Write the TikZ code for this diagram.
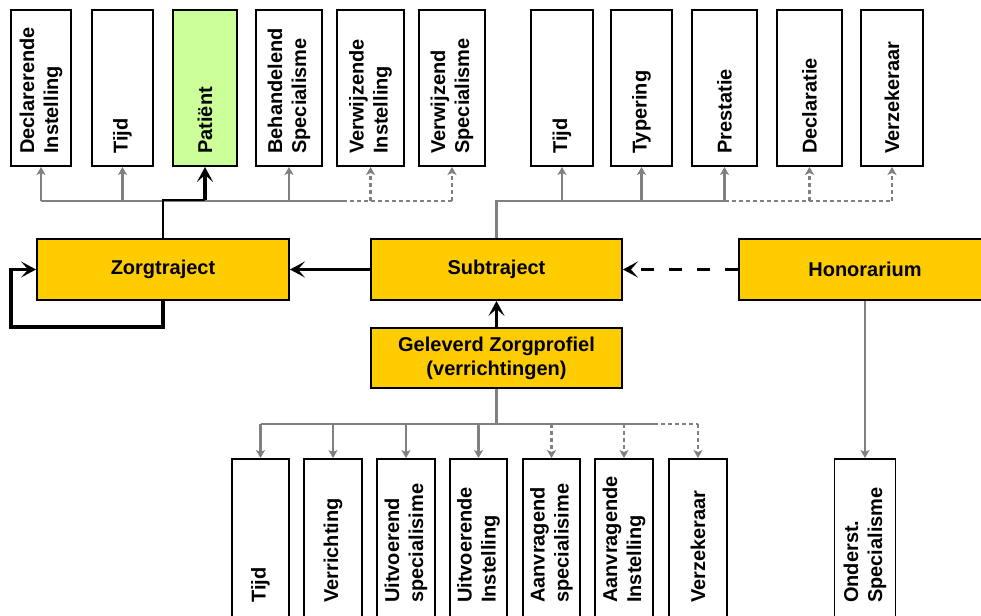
\documentclass[tikz,border=0pt]{standalone}
\usepackage{fontspec}
\setmainfont{Liberation Sans}
\usetikzlibrary{arrows.meta}
\definecolor{yel}{HTML}{FFCC00}
\definecolor{grn}{HTML}{CCFF99}
\definecolor{gry}{HTML}{808080}
\begin{document}
\begin{tikzpicture}[x=1pt,y=1pt,
  bx/.style={draw=black,line width=1.9pt,fill=white,inner sep=0pt,rectangle},
  tbx/.style={bx,minimum height=156pt},
  bbx/.style={bx,minimum height=181pt},
  ybx/.style={bx,fill=yel,minimum height=61pt,minimum width=251pt,font=\fontsize{20}{24}\selectfont\bfseries,align=center},
  vtext/.style={rotate=90,anchor=west,align=left,inner sep=0pt,font=\fontsize{20}{24}\selectfont\bfseries},
  gline/.style={draw=gry,line width=2.2pt},
  gdash/.style={dash pattern=on 4pt off 3pt},
  garr/.style={gline,-{Stealth[length=8pt,width=9pt,inset=2pt]}},
  blk/.style={draw=black,line width=3.2pt},
  barr/.style={blk,-{Stealth[length=15pt,width=16pt,inset=7pt]}}
]
\useasboundingbox (0,0) rectangle (981,615);
\fill[white] (0,0) rectangle (981,615);

% top boxes
\node[tbx,minimum width=60pt] (d1) at (41,527) {};
\node[tbx,minimum width=61pt] (d2) at (122.5,527) {};
\node[tbx,minimum width=64pt,fill=grn] (d3) at (205,527) {};
\node[tbx,minimum width=66pt] (d4) at (289,527) {};
\node[tbx,minimum width=67pt] (d5) at (370.5,527) {};
\node[tbx,minimum width=66pt] (d6) at (452,527) {};
\node[tbx,minimum width=62pt] (r1) at (562,527) {};
\node[tbx,minimum width=61pt] (r2) at (641.5,527) {};
\node[tbx,minimum width=65pt] (r3) at (724.5,527) {};
\node[tbx,minimum width=65pt] (r4) at (809.5,527) {};
\node[tbx,minimum width=62pt] (r5) at (892,527) {};

\node[vtext] (td1) at ([yshift=13pt]d1.south) {Declarerende\\Instelling};
\node[vtext] (td2) at ([yshift=13pt]d2.south) {Tijd};
\node[vtext] (td3) at ([yshift=13pt]d3.south) {Patiënt};
\node[vtext] (td4) at ([yshift=13pt]d4.south) {Behandelend\\Specialisme};
\node[vtext] (td5) at ([yshift=13pt]d5.south) {Verwijzende\\Instelling};
\node[vtext] (td6) at ([yshift=13pt]d6.south) {Verwijzend\\Specialisme};
\node[vtext] (tr1) at ([yshift=13pt]r1.south) {Tijd};
\node[vtext] (tr2) at ([yshift=13pt]r2.south) {Typering};
\node[vtext] (tr3) at ([yshift=13pt]r3.south) {Prestatie};
\node[vtext] (tr4) at ([yshift=13pt]r4.south) {Declaratie};
\node[vtext] (tr5) at ([yshift=13pt]r5.south) {Verzekeraar};

% middle boxes
\node[ybx,minimum width=252pt] (zorg) at (163,345.5) {Zorgtraject};
\node[ybx] (sub) at (496.5,345.5) {Subtraject};
\node[ybx,minimum width=252pt] (hon) at (865,345.5) {Honorarium};
\node[ybx,minimum height=60pt] (gel) at (496.5,257) {Geleverd Zorgprofiel\\(verrichtingen)};

% bottom boxes
\node[bbx,minimum width=57pt] (b1) at (260.5,65.5) {};
\node[bbx,minimum width=58pt] (b2) at (333,65.5) {};
\node[bbx,minimum width=58pt] (b3) at (406,65.5) {};
\node[bbx,minimum width=57pt] (b4) at (478.5,65.5) {};
\node[bbx,minimum width=57pt] (b5) at (551.5,65.5) {};
\node[bbx,minimum width=58pt] (b6) at (624,65.5) {};
\node[bbx,minimum width=58pt] (b7) at (698,65.5) {};
\node[bbx,minimum width=61pt] (ond) at (865,65.5) {};

\node[vtext] (tb1) at (b1.center |- 0,12) {Tijd};
\node[vtext] (tb2) at (b2.center |- 0,12) {Verrichting};
\node[vtext] (tb3) at (b3.center |- 0,12) {Uitvoerend\\specialisime};
\node[vtext] (tb4) at (b4.center |- 0,12) {Uitvoerende\\Instelling};
\node[vtext] (tb5) at (b5.center |- 0,12) {Aanvragend\\specialisime};
\node[vtext] (tb6) at (b6.center |- 0,12) {Aanvragende\\Instelling};
\node[vtext] (tb7) at (b7.center |- 0,12) {Verzekeraar};
\node[vtext] (tond) at (ond.center |- 0,12) {Onderst.\\Specialisme};

% bus coordinates
\coordinate (busL) at (0,414);
\coordinate (busB) at (0,191);
\coordinate (splitL) at (343,414);
\coordinate (splitR) at (724.5,414);
\coordinate (splitB) at (654,191);

% top-left bus
\draw[gline] (zorg.north) -- (zorg.north |- busL);
\draw[gline] (d1.south |- busL) -- (splitL);
\draw[gline,gdash] (splitL) -- (d6.south |- busL);
\foreach \n in {d1,d2,d4} \draw[garr] (\n.south |- busL) -- (\n.south);
\foreach \n in {d5,d6} \draw[garr,gdash] (\n.south |- busL) -- (\n.south);
\draw[draw=black,line width=1.3pt] (zorg.north) -- ([yshift=1pt]zorg.north |- busL) -- ([yshift=1pt]d3.south |- busL);
\draw[barr,line width=3.5pt] ([yshift=1pt]d3.south |- busL) -- (d3.south);

% top-right bus
\draw[gline] (sub.north) -- (sub.north |- busL) -- (splitR);
\draw[gline,gdash] (splitR) -- (r5.south |- busL);
\foreach \n in {r1,r2,r3} \draw[garr] (\n.south |- busL) -- (\n.south);
\foreach \n in {r4,r5} \draw[garr,gdash] (\n.south |- busL) -- (\n.south);

% middle connectors
\draw[barr] (sub.west) -- (zorg.east);
\draw[barr,dash pattern=on 13pt off 15pt] (hon.west) -- (sub.east);
\draw[barr,line width=3.5pt] (gel.north) -- (sub.south);
\draw[barr,line width=3.5pt] (zorg.south) -- ++(0,-26) -| ([xshift=-25pt]zorg.west) -- (zorg.west);

% bottom bus
\draw[gline] (gel.south) -- (gel.south |- busB);
\draw[gline] (b1.north |- busB) -- (splitB);
\draw[gline,gdash] (splitB) -- (b7.north |- busB);
\foreach \n in {b1,b2,b3,b4} \draw[garr] (\n.north |- busB) -- (\n.north);
\foreach \n in {b5,b6,b7} \draw[garr,gdash] (\n.north |- busB) -- (\n.north);

% honorarium to onderst.
\draw[garr] (hon.south) -- (ond.north);
\end{tikzpicture}
\end{document}
